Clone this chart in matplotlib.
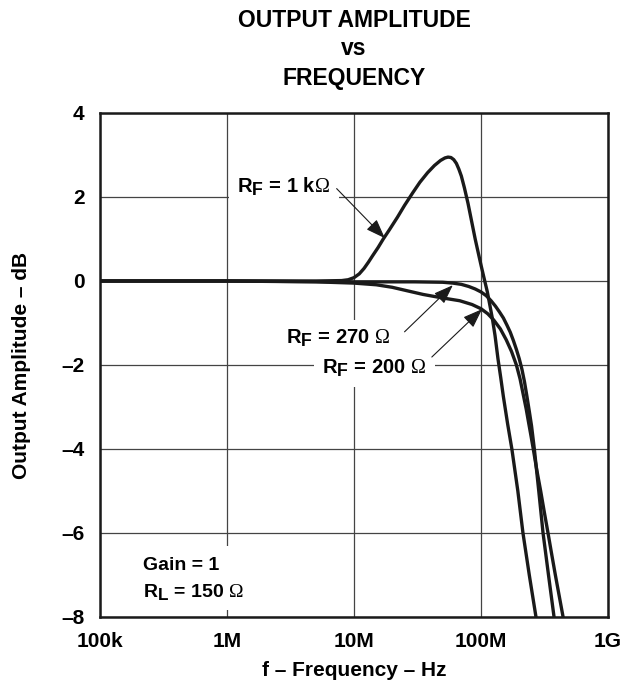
import matplotlib.pyplot as plt
import matplotlib._mathtext as mathtext_internals

plt.rcParams["font.family"] = ["Liberation Sans", "DejaVu Sans"]
plt.rcParams["font.weight"] = "bold"
plt.rcParams["mathtext.fontset"] = "custom"
plt.rcParams["mathtext.rm"] = "Liberation Serif:weight=normal"
plt.rcParams["mathtext.bf"] = "Liberation Sans:bold"
plt.rcParams["mathtext.it"] = "Liberation Sans:bold"
# subscripts in the original are nearly full size
mathtext_internals.SHRINK_FACTOR = 0.88

# Data (frequency in Hz, amplitude in dB)
f_1k = [1e5, 1e6, 5e6, 8e6, 9e6, 10e6, 11e6, 12e6, 13e6, 14e6, 15.5e6, 17e6,
        19e6, 22e6, 25e6, 29e6, 33e6, 38e6, 43e6, 48e6, 52e6, 55e6, 58e6,
        61e6, 64e6, 67e6, 70e6, 74e6, 79e6, 84e6, 90e6, 95e6, 100e6, 107e6,
        112e6, 117e6, 123e6, 129e6, 136e6, 143e6, 150e6, 162e6, 175e6,
        195e6, 214e6, 240e6, 271e6]
db_1k = [0.0, 0.0, 0.0, 0.01, 0.03, 0.08, 0.17, 0.3, 0.45, 0.6, 0.8, 1.0,
         1.22, 1.52, 1.8, 2.1, 2.35, 2.58, 2.75, 2.87, 2.93, 2.95, 2.94,
         2.89, 2.8, 2.66, 2.5, 2.22, 1.85, 1.45, 1.0, 0.68, 0.38, 0.0,
         -0.25, -0.55, -0.9, -1.3, -1.85, -2.3, -2.75, -3.4, -4.0,
         -5.0, -6.0, -7.0, -8.0]

f_270 = [1e5, 1e6, 10e6, 30e6, 50e6, 60e6, 70e6, 80e6, 90e6, 100e6, 110e6,
         120e6, 130e6, 140e6, 150e6, 160e6, 170e6, 180e6, 190e6, 200e6,
         210e6, 220e6, 230e6, 240e6, 250e6, 263e6, 285e6, 308e6, 340e6, 376e6]
db_270 = [0.0, 0.0, -0.02, -0.02, -0.03, -0.05, -0.08, -0.13, -0.19, -0.26,
          -0.35, -0.47, -0.6, -0.74, -0.88, -1.05, -1.22, -1.42, -1.63, -1.85,
          -2.1, -2.4, -2.75, -3.1, -3.45, -4.0, -5.0, -6.0, -7.0, -8.0]

f_200 = [1e5, 1e6, 5e6, 10e6, 15e6, 20e6, 26e6, 35e6, 49e6, 68e6, 85e6,
         100e6, 113e6, 126e6, 142e6, 158e6, 174e6, 190e6, 203e6, 215e6,
         227e6, 238e6, 248e6, 258e6, 275e6, 295e6, 315e6, 337e6, 360e6,
         385e6, 413e6, 443e6]
db_200 = [0.0, 0.0, -0.02, -0.05, -0.09, -0.15, -0.23, -0.32, -0.4, -0.47,
          -0.56, -0.66, -0.78, -0.93, -1.14, -1.4, -1.68, -2.0, -2.33, -2.7,
          -3.05, -3.4, -3.7, -4.0, -4.5, -5.0, -5.5, -6.0, -6.5,
          -7.0, -7.5, -8.0]

x_ticks = [1e5, 1e6, 1e7, 1e8, 1e9]
x_labels = ["100k", "1M", "10M", "100M", "1G"]
y_ticks = [-8, -6, -4, -2, 0, 2, 4]
y_labels = ["\u20138", "\u20136", "\u20134", "\u20132", "0", "2", "4"]

fig = plt.figure(figsize=(6.24, 6.85), dpi=100)
ax = fig.add_axes([100 / 624, 68 / 685, 508 / 624, 504 / 685])

ax.set_xscale("log")
ax.set_xlim(1e5, 1e9)
ax.set_ylim(-8, 4)
ax.set_xticks(x_ticks)
ax.set_xticklabels(x_labels)
ax.minorticks_off()
ax.set_yticks(y_ticks)
ax.set_yticklabels(y_labels)
ax.tick_params(length=0, labelsize=15, pad=11)
ax.grid(True, color="#444444", lw=0.9)
ax.set_axisbelow(True)
for s in ax.spines.values():
    s.set_linewidth(1.8)
    s.set_color("#1a1a1a")

for f, db in [(f_1k, db_1k), (f_270, db_270), (f_200, db_200)]:
    ax.plot(f, db, color="#1a1a1a", lw=2.4, solid_joinstyle="round", zorder=2)

# Curve labels with arrows
box = dict(facecolor="white", edgecolor="none", pad=6)
arrow = dict(arrowstyle="-|>,head_length=0.6,head_width=0.22", color="#1a1a1a",
             lw=0.8, shrinkA=0, shrinkB=0, mutation_scale=20)
labels = [
    (r"R$_\mathbf{F}$ = 1 k$\mathrm{\Omega}$", (2.8e6, 2.1), (7.3e6, 2.2), (17.5e6, 1.02)),
    (r"R$_\mathbf{F}$ = 270 $\mathrm{\Omega}$", (7.5e6, -1.5), (25e6, -1.21), (60e6, -0.1)),
    (r"R$_\mathbf{F}$ = 200 $\mathrm{\Omega}$", (14.5e6, -2.21), (41e6, -1.81), (102e6, -0.67)),
]
for txt, pos, tail, tip in labels:
    ax.text(pos[0], pos[1], txt, ha="center", va="baseline", fontsize=14.5,
            fontweight="bold", bbox=box, zorder=4)
    ax.annotate("", xy=tip, xytext=tail, arrowprops=arrow, zorder=5)

ax.text(2.18e5, -6.88, "Gain = 1", ha="left", va="baseline", fontsize=14,
        fontweight="bold", bbox=dict(facecolor="white", edgecolor="none", pad=8), zorder=4)
ax.text(2.18e5, -7.52, r"R$_\mathbf{L}$ = 150 $\mathrm{\Omega}$", ha="left",
        va="baseline", fontsize=14, fontweight="bold",
        bbox=dict(facecolor="white", edgecolor="none", pad=6), zorder=4)

ax.set_xlabel("f \u2013 Frequency \u2013 Hz", fontsize=15, fontweight="bold", labelpad=7)
ax.set_ylabel("Output Amplitude \u2013 dB", fontsize=15, fontweight="bold", labelpad=22)

# Title
fig.text(354 / 624, 1 - 27 / 685, "OUTPUT AMPLITUDE", ha="center", va="baseline",
         fontsize=16.5, fontweight="bold")
fig.text(354 / 624, 1 - 55 / 685, "vs", ha="center", va="baseline",
         fontsize=16.5, fontweight="bold")
fig.text(354 / 624, 1 - 85 / 685, "FREQUENCY", ha="center", va="baseline",
         fontsize=16.5, fontweight="bold")

fig.savefig("out.png", dpi=100, facecolor="white")
